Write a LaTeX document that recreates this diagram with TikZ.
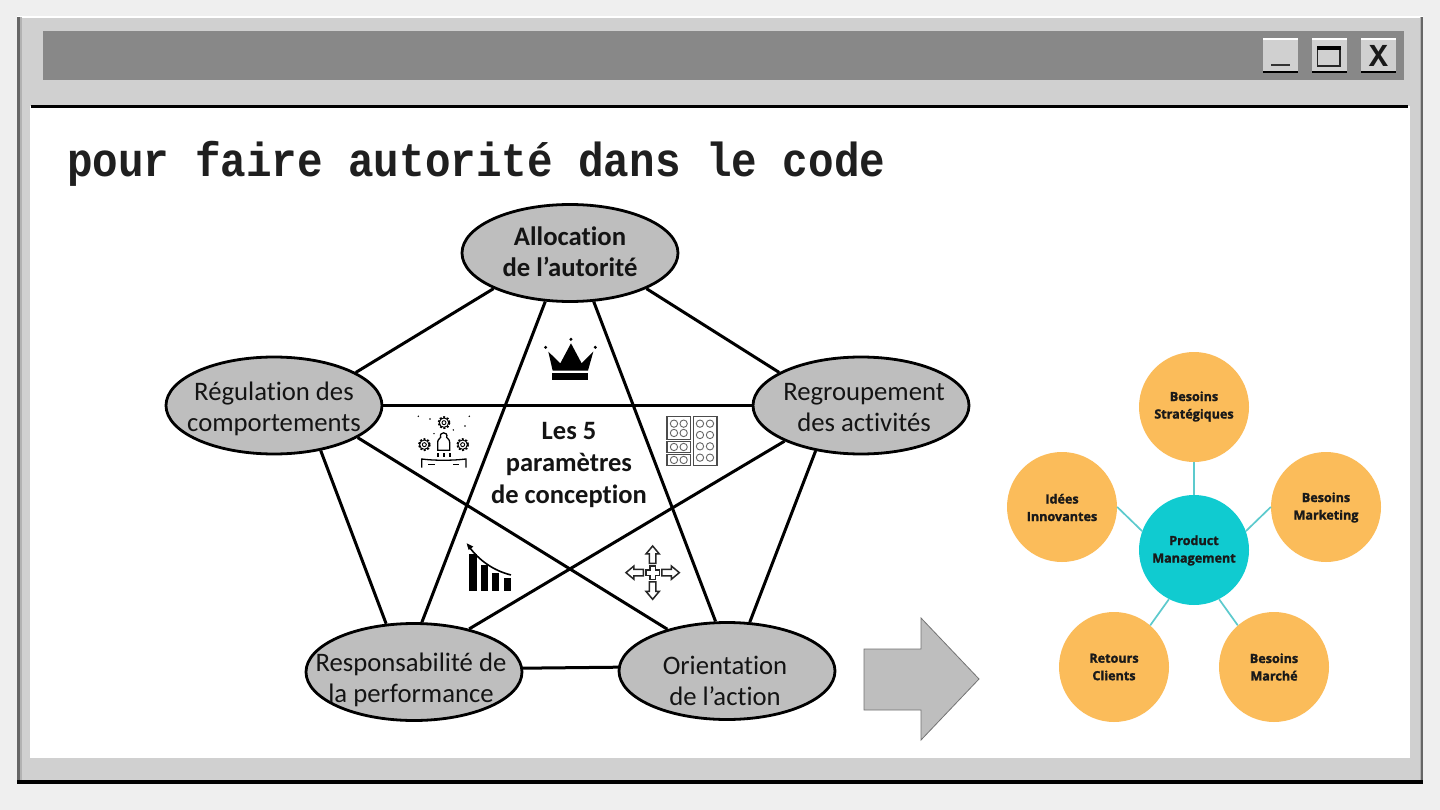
\documentclass[tikz,border=0pt]{standalone}
\usepackage{fontspec}
\setmainfont[Ligatures=NoCommon]{Carlito}
\newfontfamily\popfont[BoldFeatures={FakeBold=1.6}]{Open Sans}
\newfontfamily\monofont{Liberation Mono}
\usetikzlibrary{shapes.geometric}
\definecolor{pagebg}{HTML}{EFEFEF}
\definecolor{panel}{HTML}{D0D0D0}
\definecolor{barc}{HTML}{888888}
\definecolor{ell}{HTML}{BEBEBE}
\definecolor{orangec}{HTML}{FBBC5A}
\definecolor{tealc}{HTML}{10CBD0}
\definecolor{linkc}{HTML}{5CCACD}
\tikzset{
  par/.style={draw=black,line width=2.8pt,fill=ell,ellipse,minimum width=216pt,minimum height=97pt,inner sep=0pt},
  partext/.style={align=center,inner sep=0pt,font=\fontsize{26.7}{31}\selectfont,text=black!92},
  edge/.style={draw=black,line width=3pt},
  orb/.style={circle,fill=orangec,minimum size=110pt,inner sep=0pt},
  orbtext/.style={align=center,inner sep=0pt,font=\popfont\bfseries\fontsize{12.6}{17.5}\selectfont,text=black!90},
  link/.style={draw=linkc,line width=1.7pt},
  btn/.style={fill=panel},
}
\begin{document}
\begin{tikzpicture}[x=1pt,y=-1pt]
\useasboundingbox (0,0) rectangle (1440,810);
\fill[pagebg] (0,0) rectangle (1440,810);
% window
\fill[panel] (17,17) rectangle (1423,782);
\fill[white] (17,16) rectangle (1423,18);
\fill[black!60] (17,17) rectangle (19.5,782);
\fill[black!30] (19.5,17) rectangle (21.5,782);
\fill[black!60] (1421,17) rectangle (1423,782);
\fill[black!30] (1419.5,17) rectangle (1421,782);
\fill[black] (17,780) rectangle (1423,783.5);
\fill[barc] (43,31) rectangle (1404,80);
\fill[white] (30,106) rectangle (1410,758);
\fill[black] (31,105) rectangle (1408,108);
% buttons
\foreach \x in {1263,1312,1361}{
  \fill[btn] (\x,38) rectangle (\x+35,73);
  \fill[white] (\x,38) rectangle (\x+35,40);
  \fill[black] (\x,71) rectangle (\x+35,73);
}
\fill[black!80] (1271,64.5) rectangle (1290,66);
\draw[black!85,line width=1.2pt] (1317.5,47) rectangle (1340,66);
\fill[black] (1317,46) rectangle (1340.5,50);
\node[inner sep=0pt,font=\monofont\bfseries\fontsize{32}{32}\selectfont,text=black!90] (closex) at (1378.5,55.5) {X};
% title
\node[anchor=base west,inner sep=0pt,yscale=1.12,font=\monofont\bfseries\fontsize{42.6}{42.6}\selectfont,text=black!88] (title) at (67,177) {pour faire autorité dans le code};
% parameter nodes
\node[par] (alloc) at (570,253) {};
\node[par] (regul) at (274,405.5) {};
\node[par] (regroup) at (861,405.5) {};
\node[par] (resp) at (414,672) {};
\node[par] (orient) at (727,671) {};
\draw[edge] (alloc.205) -- (regul.22.5);
\draw[edge] (alloc.335) -- (regroup.158);
\draw[edge] (alloc.243) -- (resp.81.5);
\draw[edge] (alloc.296) -- (orient.103);
\draw[edge] (regul.0) -- (regroup.180);
\draw[edge] (regul.339) -- (orient.145);
\draw[edge] (regul.316) -- (resp.120);
\draw[edge] (regroup.205) -- (resp.38);
\draw[edge] (regroup.225.6) -- (orient.65);
\draw[edge] (resp.2) -- (orient.178.4);
\node[partext,font=\bfseries\fontsize{26.7}{31}\selectfont] (alloct) at (570,252) {Allocation\\de l’autorité};
\node[partext] (regult) at (274,409) {Régulation des\\comportements};
\node[partext] (regroupt) at (864,408) {Regroupement\\des activités};
\node[partext] (respt) at (411,680) {Responsabilité de\\la performance};
\node[partext] (orientt) at (725,681) {Orientation\\de l’action};
\node[partext,font=\bfseries\fontsize{26.5}{32}\selectfont] (center) at (569,465) {Les 5\\paramètres\\de conception};
% icons, in 3x zoom coordinates
\begin{scope}[shift={(400,330)},x=0.3333pt,y=-0.3333pt]
% crown
\fill[black] (445,65)--(481,100)--(513,40)--(545,100)--(580,65)--(564,122)--(458,122)--cycle;
\fill[black] (456,129) rectangle (565,150);
\fill[black] (437,52) circle (5) (513,28) circle (5) (586,52) circle (5);
% gears and person
\foreach \gx/\gy in {132/278,73/344,188/344}{
  \draw[black,line width=1.6pt,dash pattern=on 2pt off 1.6pt] (\gx,\gy) circle (17);
  \draw[black,line width=0.9pt] (\gx,\gy) circle (14);
  \draw[black,line width=0.9pt] (\gx,\gy) circle (6);
}
\draw[black,line width=1.3pt] (113,361) -- (113,338) .. controls (113,326) and (120,328) .. (122,322) .. controls (116,304) and (146,304) .. (140,322) .. controls (142,328) and (149,326) .. (149,338) -- (149,361) -- cycle;
\draw[black,line width=1.3pt] (65,413) -- (65,387) .. controls (100,392) and (160,392) .. (198,387) -- (198,413);
\draw[black,line width=1.3pt] (85,404) -- (104,404) (160,404) -- (178,404);
\draw[black,line width=1.3pt] (114,370) -- (114,381) (132,370) -- (132,381) (150,370) -- (150,381);
\fill[black] (55,259) circle (2.5) (90,267) circle (2.5) (208,259) circle (2.5) (195,288) circle (2.5) (160,300) circle (2.5) (102,311) circle (2.5);
% blocks
\draw[black!70,line width=1.6pt] (801,259) rectangle (872,328);
\draw[black!70,line width=1.6pt] (801,335) rectangle (872,368);
\draw[black!70,line width=1.6pt] (801,373) rectangle (872,407);
\draw[black!70,line width=1.6pt] (880,259) rectangle (951,407);
\foreach \cx/\cy in {822/281,851/281,822/309,851/309,822/351,851/351,822/390,851/390,900/281,930/281,900/315,930/315,900/349,930/349,900/383,930/383}{
  \draw[black!60,line width=0.9pt] (\cx,\cy) circle (11);
}
% chart
\fill[black] (208,672) rectangle (230,782);
\fill[black] (243,706) rectangle (265,782);
\fill[black] (277,728) rectangle (298,782);
\fill[black] (311,743) rectangle (333,782);
\draw[black,line width=1.6pt] (333,735) .. controls (280,722) and (235,690) .. (205,647);
\fill[black] (200,640) -- (220,650) -- (206,660) -- cycle;
% cross of arrows
\begin{scope}[shift={(758,728)}]
\foreach \r in {0,90,180,270}{
  \begin{scope}[rotate=\r]
  \draw[black!85,line width=1.5pt] (-20,-56)--(0,-80)--(20,-56)--(10,-56)--(10,-28)--(-10,-28)--(-10,-56)--cycle;
  \end{scope}
}
\draw[black!85,line width=1.5pt] (-8,-20)--(8,-20)--(8,-8)--(20,-8)--(20,8)--(8,8)--(8,20)--(-8,20)--(-8,8)--(-20,8)--(-20,-8)--(-8,-8)--cycle;
\end{scope}
\end{scope}
% big arrow
\draw[draw=black!55,fill=ell,line width=0.8pt] (864,649)--(921,649)--(921,618)--(979,679)--(921,740)--(921,710)--(864,710)--cycle;
% product circles
\node[orb] (strat) at (1194,407) {};
\node[orb] (market) at (1326,507) {};
\node[orb] (marche) at (1274,667) {};
\node[orb] (clients) at (1114,667) {};
\node[orb] (idees) at (1062,507) {};
\node[orb,fill=tealc] (pm) at (1194,550) {};
\draw[link] (pm.90) -- (strat.270);
\draw[link] (pm.20) -- (market.180);
\draw[link] (pm.297) -- (marche.131);
\draw[link] (pm.243) -- (clients.49);
\draw[link] (pm.160) -- (idees.0);
\node[orbtext] (stratt) at (1194,406.5) {Besoins\\Stratégiques};
\node[orbtext] (markett) at (1326,507.5) {Besoins\\Marketing};
\node[orbtext] (marchet) at (1274,667) {Besoins\\Marché};
\node[orbtext] (clientst) at (1114,667) {Retours\\Clients};
\node[orbtext] (ideest) at (1062,507.5) {Idées\\Innovantes};
\node[orbtext] (pmt) at (1194,550.5) {Product\\Management};
\end{tikzpicture}
\end{document}
